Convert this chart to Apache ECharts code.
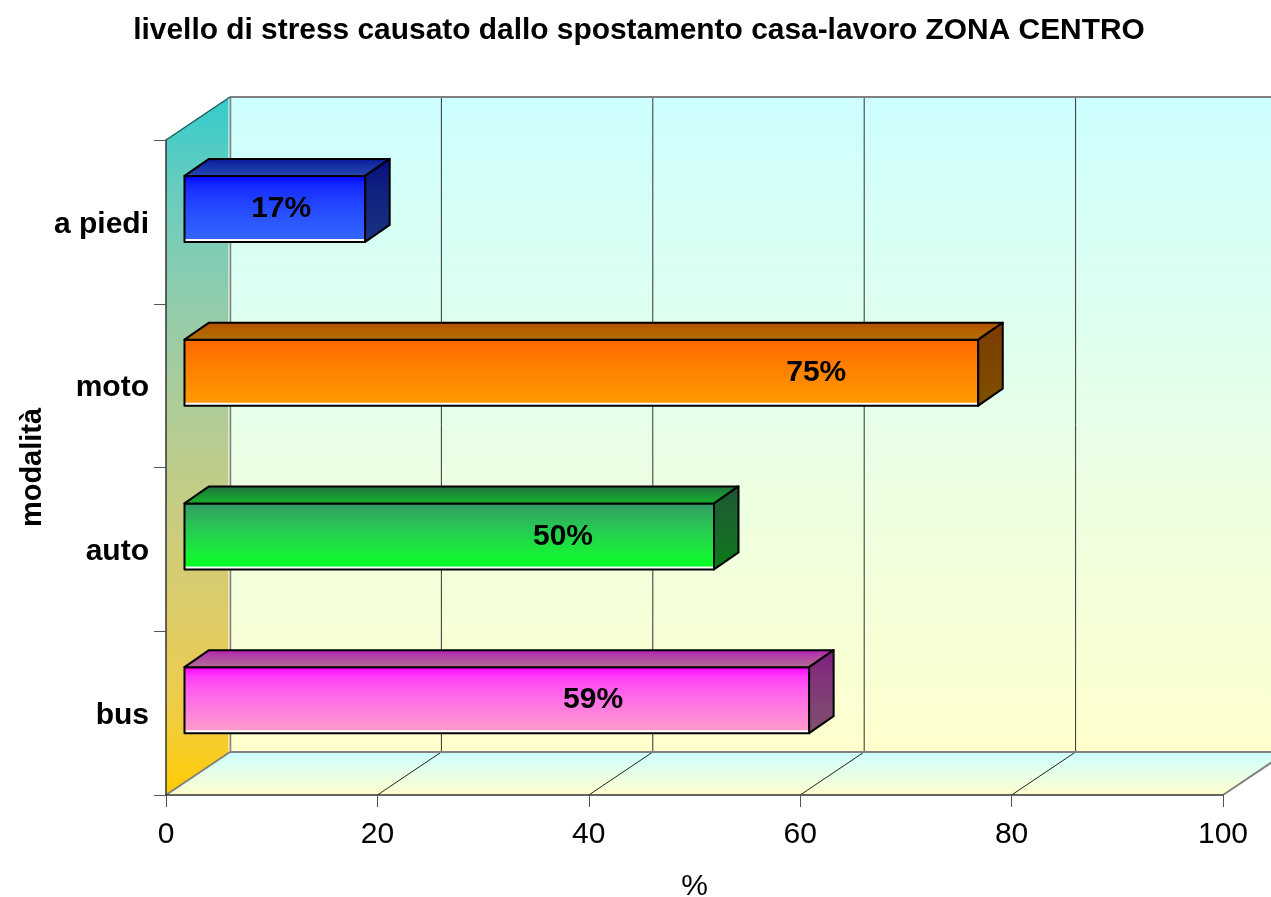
<!DOCTYPE html>
<html>
<head>
<meta charset="utf-8">
<title>livello di stress</title>
<script src="https://cdn.jsdelivr.net/npm/echarts@6/dist/echarts.min.js"></script>
<style>
  html, body { margin: 0; padding: 0; background: #fff; }
  #main { width: 1271px; height: 897px; }
</style>
</head>
<body>
<div id="main"></div>
<script>
// data, bottom to top as on the chart
const categories = ['bus', 'auto', 'moto', 'a piedi'];
const stressValues = [59, 50, 75, 17];
const stressLabels = ['59%', '50%', '75%', '17%'];
const xTicks = [0, 20, 40, 60, 80, 100];

// fake 3d look
const font = '"Liberation Sans", Arial, sans-serif';
const wallDx = 64, wallDy = -43;
const barInset = 18.5, barEndInset = 19.5, barLift = 13, barHeight = 66, barDx = 24.5, barDy = -17;
const labelShift = [-216, -151, -162, -84];   // label centre, px from the bar's right end
// [front top, front bottom, top back, top front, side top, side bottom]
const barColors = [
  ['#ff00ff', '#ff99cc', '#b300b3', '#b36b8f', '#801a80', '#80506b'],
  ['#339966', '#00ff22', '#1f6b3d', '#12b32a', '#1f5436', '#0a7a14'],
  ['#ff6600', '#ff9900', '#b34f00', '#b37000', '#7a3a00', '#804f00'],
  ['#0000ff', '#3366ff', '#000f99', '#2447b3', '#000a80', '#1a3380']
];

function rgbOf(hex) {
  return [1, 3, 5].map(function (k) { return parseInt(hex.substr(k, 2), 16); });
}
// the original's gradients blend in linear light, so use a few extra stops
function vgrad(a, b) {
  const ca = rgbOf(a), cb = rgbOf(b);
  const stops = [];
  for (let k = 0; k <= 8; k++) {
    const t = k / 8;
    const mix = ca.map(function (v, n) {
      return Math.round(Math.sqrt((1 - t) * v * v + t * cb[n] * cb[n]));
    });
    stops.push({ offset: t, color: 'rgb(' + mix.join(',') + ')' });
  }
  return new echarts.graphic.LinearGradient(0, 0, 0, 1, stops);
}
function poly(points, style) {
  return { type: 'polygon', shape: { points: points }, style: style };
}
function line(x1, y1, x2, y2, color, width) {
  return {
    type: 'line',
    shape: { x1: x1, y1: y1, x2: x2, y2: y2 },
    style: { stroke: color, lineWidth: width || 1 }
  };
}

// side wall, back wall, floor and grid lines
function renderWalls(params, api) {
  const band = api.size([0, 1])[1];
  const x0 = api.coord([0, 0])[0];
  const x1 = api.coord([100, 0])[0];
  const bottom = api.coord([0, 0])[1] + band / 2;
  const top = api.coord([0, categories.length - 1])[1] - band / 2;
  const children = [
    poly([[x0 + wallDx, top + wallDy], [x1 + wallDx, top + wallDy], [x1 + wallDx, bottom + wallDy], [x0 + wallDx, bottom + wallDy]],
      { fill: vgrad('#ccffff', '#ffffcc') }),
    poly([[x0, top], [x0 + wallDx, top + wallDy], [x0 + wallDx, bottom + wallDy], [x0, bottom]],
      { fill: vgrad('#33cccc', '#ffcc00') }),
    poly([[x0, bottom], [x0 + wallDx, bottom + wallDy], [x1 + wallDx, bottom + wallDy], [x1, bottom]],
      { fill: vgrad('#ccffff', '#ffffcc') })
  ];
  xTicks.slice(1, -1).forEach(function (t) {
    const x = api.coord([t, 0])[0];
    children.push(line(x, bottom, x + wallDx, bottom + wallDy, '#222'));
    children.push(line(x + wallDx, bottom + wallDy, x + wallDx, top + wallDy, '#333'));
  });
  children.push(line(x0 + wallDx - 1, top + wallDy, x0 + wallDx - 1, bottom + wallDy, '#ffffff'));
  children.push(line(x0 + wallDx + 0.5, top + wallDy, x0 + wallDx + 0.5, bottom + wallDy, '#808080', 1.5));
  children.push(line(x0 + wallDx, top + wallDy, x1 + wallDx, top + wallDy, '#808080', 2));
  children.push(line(x0 + wallDx, bottom + wallDy, x1 + wallDx, bottom + wallDy, '#808080', 2));
  children.push(line(x0, bottom, x0 + wallDx, bottom + wallDy, '#808080', 2));
  children.push(line(x1, bottom, x1 + wallDx, bottom + wallDy, '#808080', 2));
  children.push(line(x0, top, x0 + wallDx, top + wallDy, '#1a5c5c', 1.5));
  return { type: 'group', children: children };
}

function renderBar(params, api) {
  const i = params.dataIndex;
  const c = barColors[i];
  const p = api.coord([api.value(0), i]);
  const left = api.coord([0, i])[0] + barInset;
  const right = p[0] + barEndInset;
  const top = p[1] - barLift - barHeight / 2;
  const bottom = top + barHeight;
  const edge = { stroke: '#000', lineWidth: 2, lineJoin: 'round' };
  return {
    type: 'group',
    children: [
      { type: 'rect', shape: { x: left, y: top, width: right - left, height: barHeight }, style: { fill: '#fff' } },
      { type: 'rect', shape: { x: left, y: top, width: right - left, height: barHeight - 3 }, style: { fill: vgrad(c[0], c[1]) } },
      { type: 'rect', shape: { x: left, y: top, width: right - left, height: barHeight }, style: Object.assign({ fill: 'none' }, edge) },
      poly([[left, top], [left + barDx, top + barDy], [right + barDx, top + barDy], [right, top]],
        Object.assign({ fill: vgrad(c[2], c[3]) }, edge)),
      poly([[right, top], [right + barDx, top + barDy], [right + barDx, bottom + barDy], [right, bottom]],
        Object.assign({ fill: vgrad(c[4], c[5]) }, edge)),
      {
        type: 'text',
        style: {
          text: stressLabels[i],
          x: right + labelShift[i],
          y: top + barHeight / 2,
          align: 'center',
          verticalAlign: 'middle',
          fontFamily: font,
          fontSize: 30,
          fontWeight: 'bold',
          fill: '#000'
        }
      }
    ]
  };
}

const myChart = echarts.init(document.getElementById('main'), null, { renderer: 'canvas' });
myChart.setOption({
  animation: false,
  backgroundColor: '#fff',
  textStyle: { fontFamily: font },
  title: {
    text: 'livello di stress causato dallo spostamento casa-lavoro ZONA CENTRO',
    left: 634,
    top: 11,
    textAlign: 'center',
    textStyle: { fontFamily: font, fontSize: 29.9, fontWeight: 'bold', color: '#000' }
  },
  grid: { left: 166, right: 48, top: 140, bottom: 102, outerBoundsMode: 'none' },
  xAxis: {
    type: 'value',
    min: 0,
    max: 100,
    interval: 20,
    z: 5,
    name: '%',
    nameLocation: 'middle',
    nameGap: 77,
    nameTextStyle: { fontFamily: font, fontSize: 30, color: '#000' },
    axisLine: { show: true, onZero: false, lineStyle: { color: '#333', width: 1.5 } },
    axisTick: { show: true, length: 12, lineStyle: { color: '#555' } },
    axisLabel: { fontFamily: font, fontSize: 30, color: '#000', margin: 25 },
    splitLine: { show: false }
  },
  yAxis: {
    type: 'category',
    data: categories,
    z: 5,
    name: 'modalità',
    nameLocation: 'middle',
    nameGap: 119,
    nameMoveOverlap: false,
    nameRotate: 90,
    nameTextStyle: { fontFamily: font, fontSize: 29, fontWeight: 'bold', color: '#000' },
    axisLine: { show: true, lineStyle: { color: '#333', width: 1.5 } },
    axisTick: { show: true, length: 12, lineStyle: { color: '#555' } },
    axisLabel: {
      margin: 17,
      formatter: '{cat|{value}}',
      rich: {
        cat: { fontFamily: font, fontSize: 30, fontWeight: 'bold', color: '#000', padding: [5, 0, 0, 0] }
      }
    },
    splitLine: { show: false }
  },
  series: [
    { type: 'custom', z: 1, silent: true, data: [[0, 0]], renderItem: renderWalls },
    {
      type: 'custom',
      z: 10,
      silent: true,
      encode: { x: 0, y: 1 },
      data: stressValues.map(function (v, i) { return [v, i]; }),
      renderItem: renderBar
    }
  ]
});
</script>
</body>
</html>
